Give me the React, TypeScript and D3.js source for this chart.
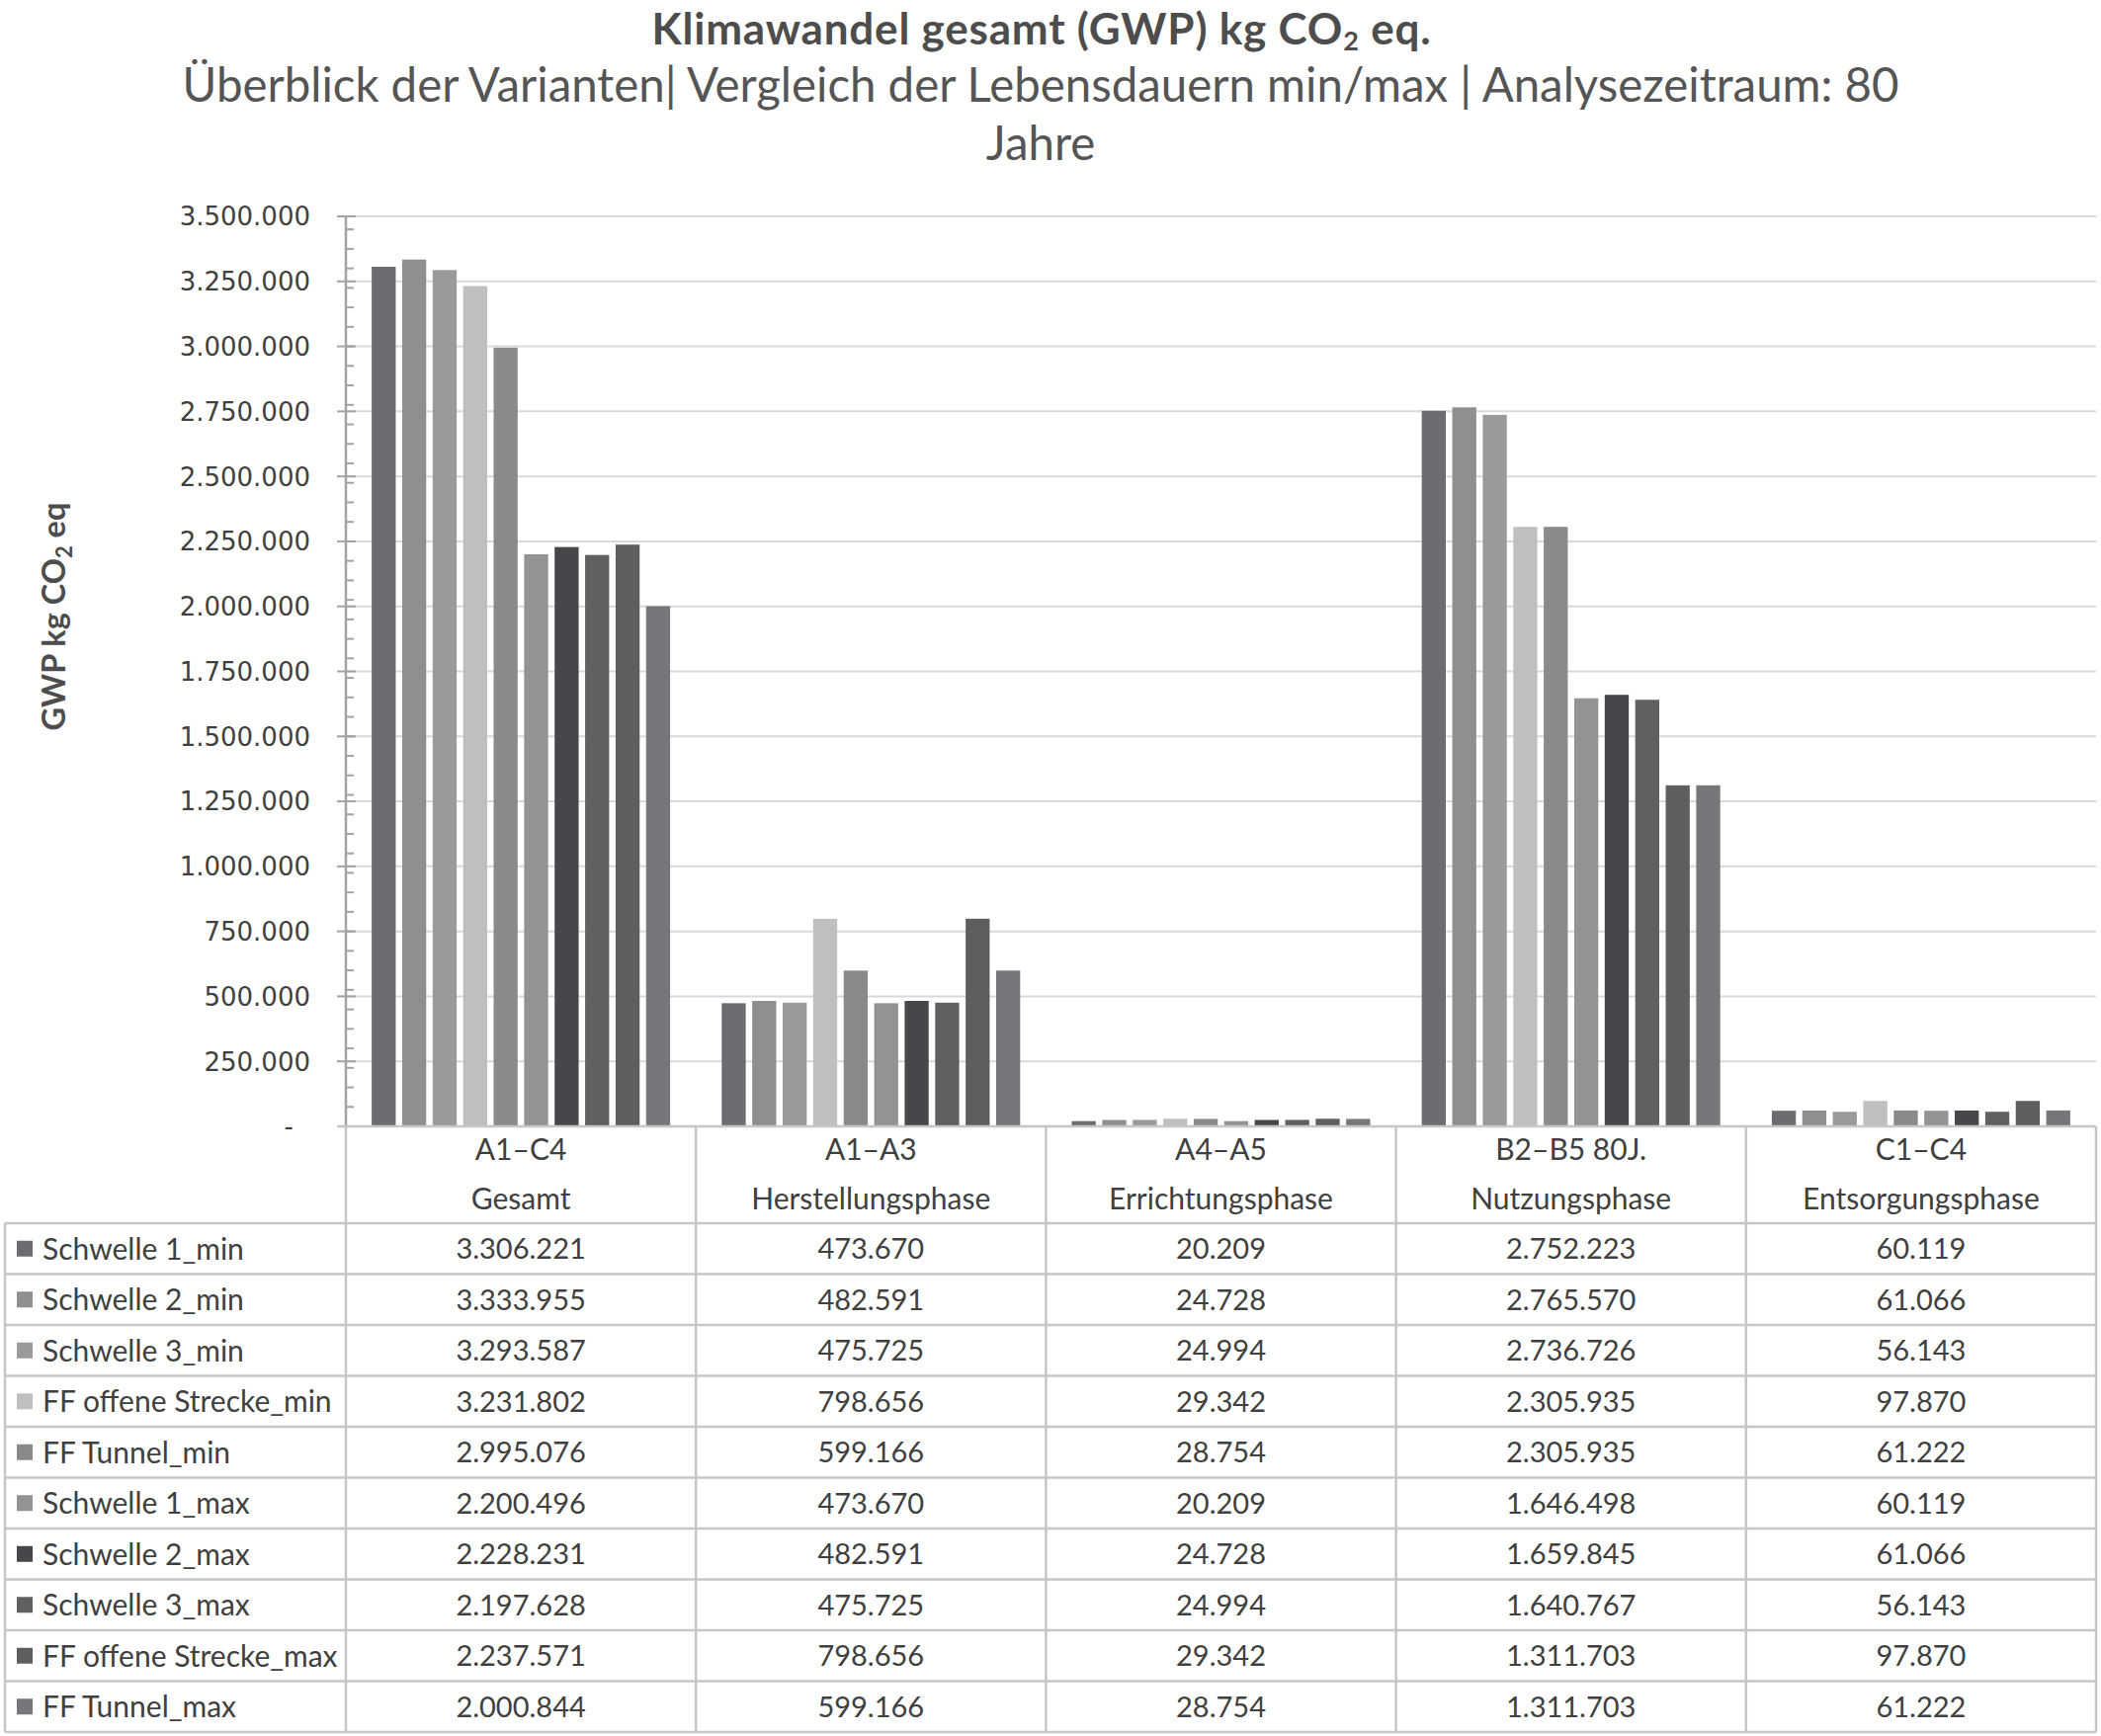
import React from 'react';
import * as d3 from 'd3';

const categoryCodes = ['A1–C4', 'A1–A3', 'A4–A5', 'B2–B5 80J.', 'C1–C4'];
const categoryNames = ['Gesamt', 'Herstellungsphase', 'Errichtungsphase', 'Nutzungsphase', 'Entsorgungsphase'];

const seriesNames = [
  'Schwelle 1_min',
  'Schwelle 2_min',
  'Schwelle 3_min',
  'FF offene Strecke_min',
  'FF Tunnel_min',
  'Schwelle 1_max',
  'Schwelle 2_max',
  'Schwelle 3_max',
  'FF offene Strecke_max',
  'FF Tunnel_max',
];

const schwelle1Min = [3306221, 473670, 20209, 2752223, 60119];
const schwelle2Min = [3333955, 482591, 24728, 2765570, 61066];
const schwelle3Min = [3293587, 475725, 24994, 2736726, 56143];
const ffOffenMin = [3231802, 798656, 29342, 2305935, 97870];
const ffTunnelMin = [2995076, 599166, 28754, 2305935, 61222];
const schwelle1Max = [2200496, 473670, 20209, 1646498, 60119];
const schwelle2Max = [2228231, 482591, 24728, 1659845, 61066];
const schwelle3Max = [2197628, 475725, 24994, 1640767, 56143];
const ffOffenMax = [2237571, 798656, 29342, 1311703, 97870];
const ffTunnelMax = [2000844, 599166, 28754, 1311703, 61222];

const seriesValues = [
  schwelle1Min, schwelle2Min, schwelle3Min, ffOffenMin, ffTunnelMin,
  schwelle1Max, schwelle2Max, schwelle3Max, ffOffenMax, ffTunnelMax,
];

const seriesColors = [
  '#6c6d70', '#8e8f91', '#999a9c', '#bebfc1', '#898a8c',
  '#929395', '#46474a', '#5f6062', '#5d5e60', '#76777a',
];

const yMax = 3500000;
const yMajorStep = 250000;
const yMinorStep = 75000;

const deLocale = d3.formatLocale({ decimal: ',', thousands: '.', grouping: [3], currency: ['', '€'] });
const fmt = deLocale.format(',d');
const tickFmt = (v: number) => (v === 0 ? '-' : fmt(v));

export default function App() {
  const W = 2126;
  const H = 1757;
  const plotLeft = 350;
  const plotRight = 2121;
  const plotTop = 219;
  const plotBottom = 1140;
  const headerBottom = 1238;
  const rowH = 51.5;
  const tableLeft = 5;

  const y = d3.scaleLinear().domain([0, yMax]).range([plotBottom, plotTop]);
  const x0 = d3.scaleBand<string>().domain(categoryCodes).range([plotLeft, plotRight]).paddingInner(0).paddingOuter(0);
  const catW = x0.bandwidth();
  const groupPad = 26.1;
  const x1 = d3
    .scaleBand<string>()
    .domain(seriesNames)
    .range([groupPad, catW - groupPad])
    .paddingInner(0.212)
    .paddingOuter(0);

  const majorTicks = d3.range(0, yMax + 1, yMajorStep);
  const minorTicks = d3.range(0, yMax + 1, yMinorStep);

  const textColor = '#404040';
  const gridColor = '#d9d9d9';
  const tableLine = '#c6c6c6';
  const calibri = 'Lato, "Open Sans", sans-serif';

  const numFontSize = 29;
  const labelFontSize = 30;
  const tableBottom = headerBottom + rowH * seriesNames.length;

  return (
    <svg
      width={W}
      height={H}
      viewBox={`0 0 ${W} ${H}`}
      style={{ position: 'absolute', left: 0, top: 0, background: '#fff' }}
    >
      <rect x={0} y={0} width={W} height={H} fill="#fff" />

      {/* Titles */}
      <text
        x={1054}
        y={44.5}
        textAnchor="middle"
        fontFamily={calibri}
        fontWeight={700}
        fontSize={44}
        letterSpacing={0.8}
        fill="#4d4d4d"
      >
        Klimawandel gesamt (GWP) kg CO<tspan fontSize={27} dy={6}>2</tspan>
        <tspan dy={-6}> eq.</tspan>
      </text>
      <text x={1053} y={103} textAnchor="middle" fontFamily={calibri} fontSize={47.4} fill="#555">
        Überblick der Varianten| Vergleich der Lebensdauern min/max | Analysezeitraum: 80
      </text>
      <text x={1053} y={162} textAnchor="middle" fontFamily={calibri} fontSize={47.4} fill="#555">
        Jahre
      </text>

      {/* Y axis title */}
      <text
        transform={`translate(66,624) rotate(-90)`}
        textAnchor="middle"
        fontFamily={calibri}
        fontWeight={700}
        fontSize={32.5}
        fill="#4d4d4d"
      >
        GWP kg CO<tspan fontSize={22} dy={7}>2</tspan>
        <tspan dy={-7}> eq</tspan>
      </text>

      {/* Gridlines */}
      {majorTicks
        .filter((t) => t > 0)
        .map((t) => (
          <line key={`g${t}`} x1={plotLeft} x2={plotRight} y1={y(t)} y2={y(t)} stroke={gridColor} strokeWidth={2} />
        ))}

      {/* Bars */}
      {categoryCodes.map((c, ci) => (
        <g key={c} transform={`translate(${x0(c)},0)`}>
          {seriesNames.map((s, si) => {
            const v = seriesValues[si][ci];
            return (
              <rect
                key={s}
                x={x1(s)}
                y={y(v)}
                width={x1.bandwidth()}
                height={plotBottom - y(v)}
                fill={seriesColors[si]}
              />
            );
          })}
        </g>
      ))}

      {/* Y axis */}
      <line x1={plotLeft} x2={plotLeft} y1={plotTop} y2={plotBottom} stroke="#a3a3a3" strokeWidth={2.5} />
      {minorTicks.map((t) => (
        <line key={`m${t}`} x1={plotLeft} x2={plotLeft + 8} y1={y(t)} y2={y(t)} stroke="#a3a3a3" strokeWidth={2} />
      ))}
      {majorTicks.map((t) => (
        <line
          key={`t${t}`}
          x1={plotLeft - 9}
          x2={t === 0 ? plotLeft : plotLeft + 10}
          y1={y(t)}
          y2={y(t)}
          stroke="#a3a3a3"
          strokeWidth={2}
        />
      ))}
      {majorTicks.map((t) => (
        <text
          key={`l${t}`}
          x={t === 0 ? 297 : 314}
          y={y(t)}
          dy="0.36em"
          textAnchor="end"
          fontFamily='"DejaVu Sans", sans-serif'
          fontSize={26}
          fill={textColor}
        >
          {tickFmt(t)}
        </text>
      ))}

      {/* Table lines */}
      <line x1={plotLeft - 9} x2={plotRight} y1={plotBottom} y2={plotBottom} stroke={tableLine} strokeWidth={2.5} />
      {[...categoryCodes.map((c) => x0(c) as number), plotRight].map((xv, i) => (
        <line key={`v${i}`} x1={xv} x2={xv} y1={plotBottom} y2={tableBottom} stroke={tableLine} strokeWidth={2.5} />
      ))}
      <line x1={tableLeft} x2={tableLeft} y1={headerBottom} y2={tableBottom} stroke={tableLine} strokeWidth={2.5} />
      {d3.range(seriesNames.length + 1).map((i) => (
        <line
          key={`h${i}`}
          x1={tableLeft}
          x2={plotRight}
          y1={headerBottom + i * rowH}
          y2={headerBottom + i * rowH}
          stroke={tableLine}
          strokeWidth={2.5}
        />
      ))}

      {/* Header text */}
      {categoryCodes.map((c, ci) => {
        const cx = (x0(c) as number) + catW / 2;
        return (
          <g key={`hd${c}`}>
            <text x={cx} y={1163} dy="0.36em" textAnchor="middle" fontFamily={calibri} fontSize={labelFontSize} fill={textColor}>
              {c}
            </text>
            <text x={cx} y={1213} dy="0.36em" textAnchor="middle" fontFamily={calibri} fontSize={labelFontSize} fill={textColor}>
              {categoryNames[ci]}
            </text>
          </g>
        );
      })}

      {/* Rows */}
      {seriesNames.map((s, si) => {
        const cy = headerBottom + rowH * (si + 0.5);
        return (
          <g key={`r${s}`}>
            <rect x={17} y={cy - 8} width={16} height={16} fill={seriesColors[si]} />
            <text x={43} y={cy} dy="0.36em" fontFamily={calibri} fontSize={labelFontSize} fill={textColor}>
              {s}
            </text>
            {categoryCodes.map((c, ci) => (
              <text
                key={c}
                x={(x0(c) as number) + catW / 2}
                y={cy}
                dy="0.36em"
                textAnchor="middle"
                fontFamily={calibri}
                fontSize={numFontSize}
                fill={textColor}
              >
                {fmt(seriesValues[si][ci])}
              </text>
            ))}
          </g>
        );
      })}
    </svg>
  );
}
